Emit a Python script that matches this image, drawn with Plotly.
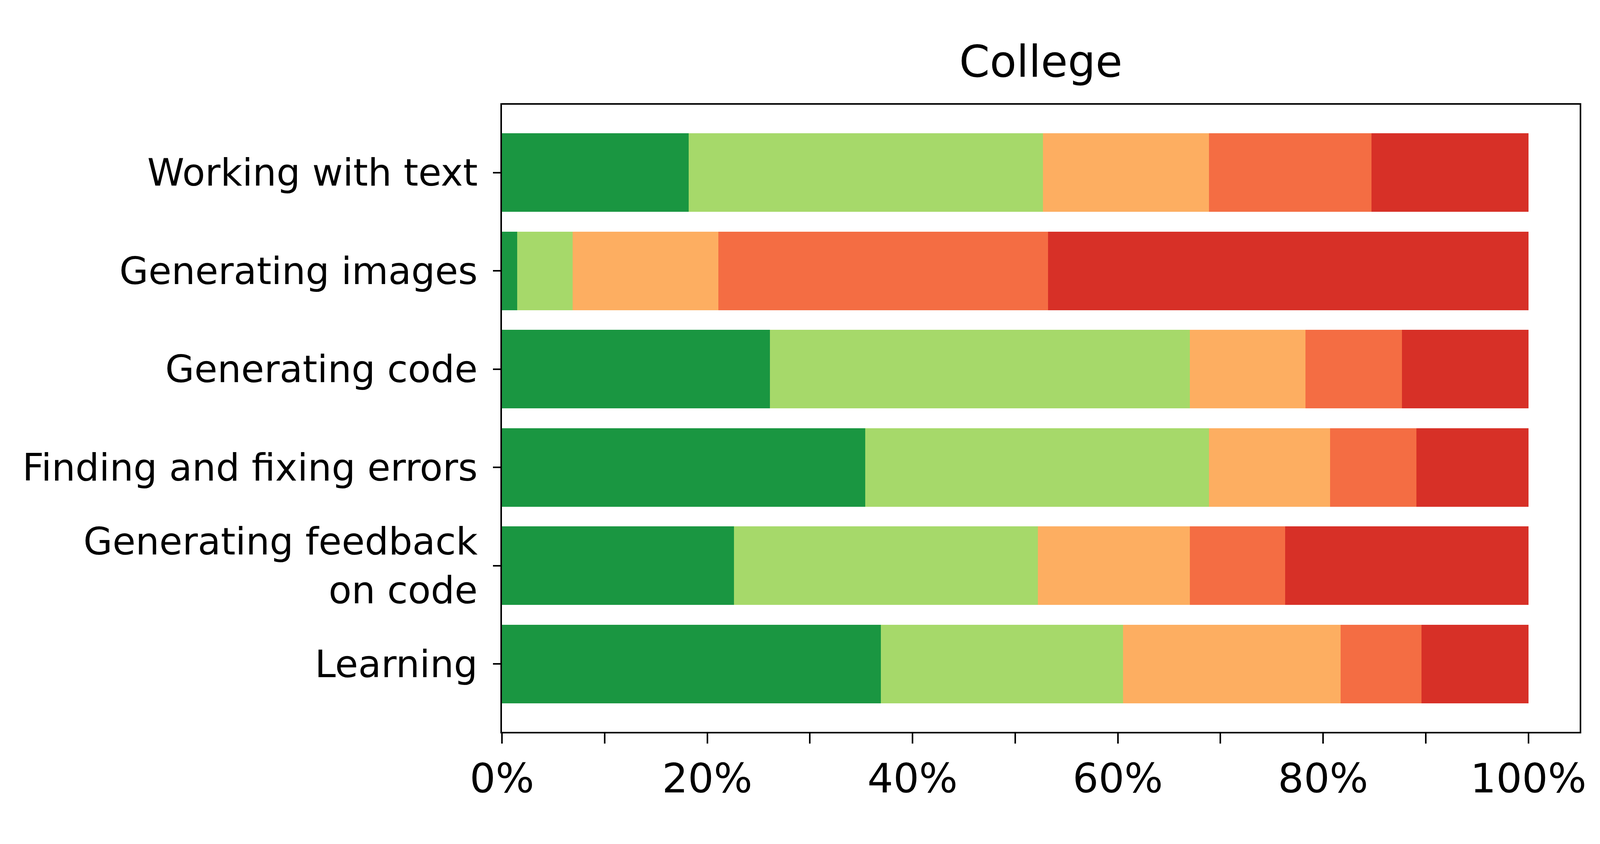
import plotly.graph_objects as go

categories = [
    "Working with text",
    "Generating images",
    "Generating code",
    "Finding and fixing errors",
    "Generating feedback<br>on code",
    "Learning",
]

# Percent share of each response level per category
level1 = [18.2, 1.5, 26.1, 35.4, 22.6, 36.9]
level2 = [34.5, 5.4, 40.9, 33.5, 29.6, 23.6]
level3 = [16.2, 14.2, 11.3, 11.8, 14.8, 21.2]
level4 = [15.8, 32.1, 9.4, 8.4, 9.3, 7.9]
level5 = [15.3, 46.8, 12.3, 10.9, 23.7, 10.4]

series_names = ["Level 1", "Level 2", "Level 3", "Level 4", "Level 5"]
series_values = [level1, level2, level3, level4, level5]
colors = ["#1a9641", "#a6d96a", "#fdae61", "#f46d43", "#d73027"]

x_tick_vals = [0, 10, 20, 30, 40, 50, 60, 70, 80, 90, 100]
x_tick_text = ["0%", "", "20%", "", "40%", "", "60%", "", "80%", "", "100%"]

fig = go.Figure()
for name, vals, col in zip(series_names, series_values, colors):
    fig.add_trace(go.Bar(
        y=categories, x=vals, name=name, orientation="h",
        marker=dict(color=col, line=dict(width=0)),
    ))

# The browser window is 4096 px wide, so horizontal sizes are scaled to it.
W, H = 4096, 2160
FONT = "DejaVu Sans"
fig.update_layout(
    width=W, height=H,
    barmode="stack", bargap=0.2,
    showlegend=False,
    paper_bgcolor="white", plot_bgcolor="white",
    margin=dict(l=1277, r=60, t=260, b=295, pad=0),
    font=dict(family=FONT, color="black"),
    title=dict(text="College", x=0.5, xref="paper", xanchor="center",
               y=1, yref="paper", yanchor="bottom", pad=dict(b=72),
               font=dict(family=FONT, size=112, color="black")),
)
fig.update_xaxes(
    range=[0, 105], tickmode="array", tickvals=x_tick_vals, ticktext=x_tick_text,
    ticks="outside", ticklen=26, tickwidth=4, tickcolor="black",
    showline=True, linewidth=4, linecolor="black", mirror=True,
    showgrid=False, zeroline=False,
    tickfont=dict(family=FONT, size=104, color="black"),
    ticklabelstandoff=0,
)
fig.update_yaxes(
    categoryorder="array", categoryarray=categories,
    range=[5.69, -0.69],
    ticks="outside", ticklen=19, tickwidth=4, tickcolor="black",
    showline=True, linewidth=4, linecolor="black", mirror=True,
    showgrid=False, zeroline=False,
    tickfont=dict(family=FONT, size=96, color="black"),
    ticklabelstandoff=20,
)

fig.write_html("out.html")
